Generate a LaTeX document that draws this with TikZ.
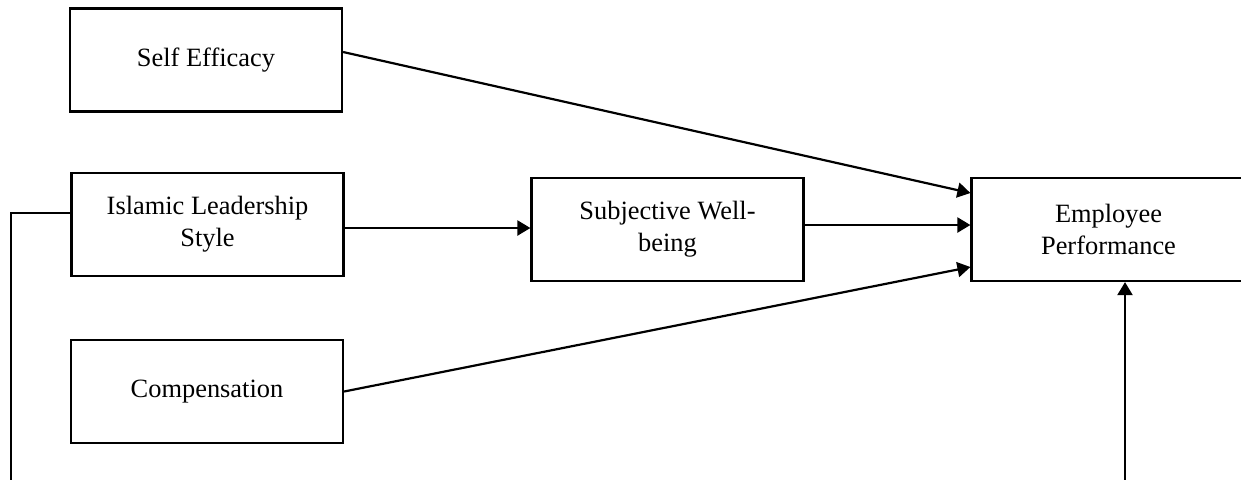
\documentclass[tikz,border=0pt]{standalone}
\usepackage{fontspec}
\setmainfont{Liberation Serif}
\usetikzlibrary{arrows.meta,calc}
\begin{document}
\begin{tikzpicture}[x=0.5pt,y=-0.5pt,
  boxnode/.style={draw,line width=1.1pt,minimum width=136pt,minimum height=51.5pt,
    align=center,inner sep=0pt,font=\fontsize{13.2}{16}\selectfont},
  conn/.style={line width=1.1pt},
  arr/.style={conn,-{Triangle[length=6.5pt,width=7.5pt]}}]
\useasboundingbox (0,0) rectangle (1241,479);
\clip (0,0) rectangle (1241,479);
\node[boxnode] (se) at (206,60) {Self Efficacy};
\node[boxnode] (ils) at (207.5,224.5) {Islamic Leadership\\Style};
\node[boxnode] (comp) at (207,391.5) {Compensation};
\node[boxnode] (sw) at (667.5,229.5) {Subjective Well-\\being};
\node[boxnode,minimum width=137pt] (ep) at (1108.5,229.5) {Employee\\Performance};
\coordinate (lb) at (11,490);
\coordinate (rb) at (1125,490);
\draw[arr] ($(se.east)+(0,-8)$) -- ($(ep.west)+(0,-36.5)$);
\draw[arr] ($(ils.east)+(0,3.5)$) -- ($(sw.west)+(0,-1.5)$);
\draw[arr] ($(sw.east)+(0,-4.5)$) -- ($(ep.west)+(0,-4.5)$);
\draw[arr] (comp.east) -- ($(ep.west)+(0,37.5)$);
\draw[arr] ($(ils.west)+(0,-11.5)$) -| (lb) -- (rb) -- (ep.south -| rb);
\end{tikzpicture}
\end{document}
